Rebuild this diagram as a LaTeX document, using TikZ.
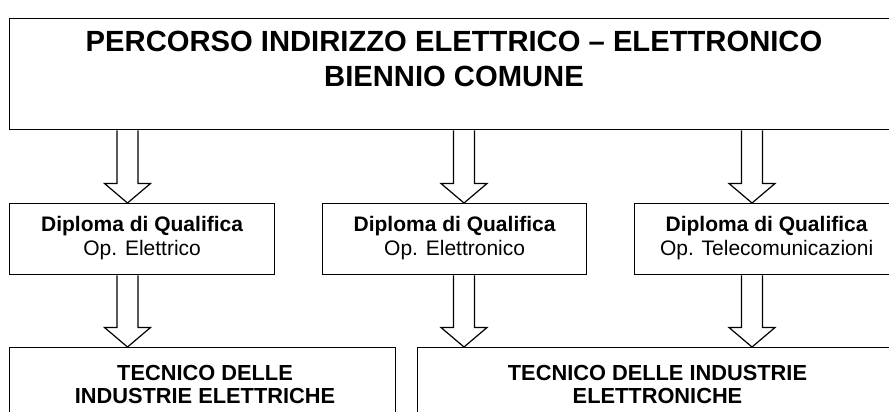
\documentclass[tikz,border=0pt]{standalone}
\usepackage{fontspec}
\setmainfont{Liberation Sans}
\begin{document}
\begin{tikzpicture}[x=1pt,y=-1pt,
  box/.style={draw,line width=1.3pt,rectangle,inner sep=0pt,anchor=north west},
  blk/.style={draw,line width=1.2pt,fill=white,line join=miter},
  ttl/.style={font=\fontsize{29.2}{33}\selectfont\bfseries,anchor=base,inner sep=0pt},
  mid/.style={font=\fontsize{21}{24}\selectfont,align=center,anchor=center,inner sep=0pt},
  bot/.style={font=\fontsize{21.8}{24.5}\selectfont\bfseries,anchor=base,inner sep=0pt}]
\useasboundingbox (0,0) rectangle (889,412);
\clip (0,0) rectangle (889,412);
\newcommand{\blockarr}[2]{%
  \path (#1) coordinate (ba@s) (#2) coordinate (ba@e);
  \draw[blk] ([xshift=-10.5pt]ba@s) -- ([xshift=-10.5pt,yshift=19.5pt]ba@e)
    -- ([xshift=-23pt,yshift=19.5pt]ba@e) -- (ba@e)
    -- ([xshift=23pt,yshift=19.5pt]ba@e) -- ([xshift=10.5pt,yshift=19.5pt]ba@e)
    -- ([xshift=10.5pt]ba@s);}
% boxes
\node[box,minimum width=900pt,minimum height=111pt] (top) at (9,18) {};
\node[box,minimum width=265pt,minimum height=71pt] (d1) at (9,203) {};
\node[box,minimum width=264pt,minimum height=71pt] (d2) at (322,203) {};
\node[box,minimum width=264pt,minimum height=71pt] (d3) at (634,203) {};
\node[box,minimum width=386pt,minimum height=90pt] (e1) at (9,347) {};
\node[box,minimum width=481pt,minimum height=90pt] (e2) at (417,347) {};
% texts
\node[ttl] (t1) at (454,52) {PERCORSO INDIRIZZO ELETTRICO – ELETTRONICO};
\node[ttl] (t2) at (454,87) {BIENNIO COMUNE};
\node[mid] (m1) at ([yshift=1pt]d1.center) {\textbf{Diploma di Qualifica}\\Op. Elettrico};
\node[mid] (m2) at ([yshift=1pt]d2.center) {\textbf{Diploma di Qualifica}\\Op. Elettronico};
\node[mid] (m3) at ([yshift=1pt]d3.center) {\textbf{Diploma di Qualifica}\\Op. Telecomunicazioni};
\node[bot] (b1a) at (205,380) {TECNICO DELLE};
\node[bot] (b1b) at (205,403) {INDUSTRIE ELETTRICHE};
\node[bot] (b2a) at (657.5,380) {TECNICO DELLE INDUSTRIE};
\node[bot] (b2b) at (657.5,403) {ELETTRONICHE};
% arrow axes
\coordinate (x1) at (127.5,0);
\coordinate (x2) at (464,0);
\coordinate (x3) at (752,0);
% arrows
\blockarr{x1 |- top.south}{x1 |- d1.north}
\blockarr{x2 |- top.south}{x2 |- d2.north}
\blockarr{x3 |- top.south}{x3 |- d3.north}
\blockarr{x1 |- d1.south}{x1 |- e1.north}
\blockarr{x2 |- d2.south}{x2 |- e2.north}
\blockarr{x3 |- d3.south}{x3 |- e2.north}
\end{tikzpicture}
\end{document}
